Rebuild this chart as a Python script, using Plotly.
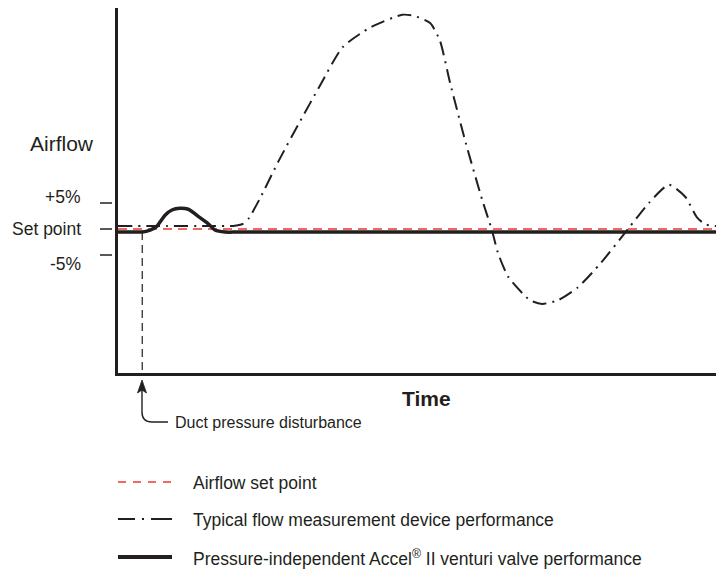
import plotly.graph_objects as go

# ---- data (time in arbitrary units 0..100, airflow as % deviation from set point)
setpoint_t = [0, 100]
setpoint_v = [0, 0]

typical_t = [0, 8, 15, 19.0, 20.6, 21.6, 23.3, 26.6, 29.9, 33.2, 37.1, 41.7, 46.9, 48.8,
             51.5, 53.1, 54.8, 57.4, 60.1, 61.7, 62.7, 64.4, 68.0, 70.0, 72.6, 75.9, 79.7,
             84.3, 87.6, 90.9, 93.6, 95.5, 96.9, 98.5, 100]
typical_v = [0.58, 0.58, 0.58, 0.6, 1.0, 2.1, 5.6, 13.3, 20.4, 27.3, 35.0, 38.8, 41.2, 41.0,
             39.6, 36.3, 28.1, 16.5, 5.6, -0.2, -4.6, -9.2, -13.7, -14.4, -13.7, -11.2, -6.5,
             0.2, 5.0, 8.5, 6.2, 2.3, 0.9, 0.6, 0.58]

accel_t = [0, 2.5, 4.0, 5.3, 6.3, 7.8, 8.9, 10.2, 11.6, 13.4, 14.9, 16.0, 17.7, 20, 100]
accel_v = [-0.58, -0.58, -0.58, -0.2, 0.4, 2.7, 3.65, 4.0, 3.8, 2.3, 1.0, -0.2, -0.58,
           -0.58, -0.58]

disturbance_t = 4.0

tick_vals = [5, 0, -5]
tick_labels = ["+5%", "Set point", "-5%"]
tick_label_shift = [6, 0, -9]

legend_labels = ["Airflow set point",
                 "Typical flow measurement device performance",
                 "Pressure-independent Accel<sup>®</sup> II venturi valve performance"]

# ---- layout geometry (page has an 8px body margin; helpers take page pixels)
OFF = 8
W, H = 724 - OFF, 569 - OFF
L, R, T, B = 118 - OFF, 0, 0, 196
PW, PH = W - L - R, H - T - B


def px(x):
    return (x - OFF - L) / PW


def py(y):
    return (OFF + H - B - y) / PH


Y_MIN, Y_MAX = -27.69, 42.5
INK = "#231f20"
RED = "#e8382f"
FONT = "Liberation Sans, Arial, Helvetica, sans-serif"

fig = go.Figure()

fig.add_trace(go.Scatter(x=[disturbance_t, disturbance_t], y=[accel_v[0], Y_MIN], mode="lines",
                         line=dict(color=INK, width=1.2, dash="8px,5px"), showlegend=False,
                         hoverinfo="skip"))
fig.add_trace(go.Scatter(x=setpoint_t, y=setpoint_v, mode="lines",
                         line=dict(color=RED, width=1.6, dash="9px,6px"), showlegend=False))
fig.add_trace(go.Scatter(x=typical_t, y=typical_v, mode="lines",
                         line=dict(color=INK, width=2, dash="14px,6px,2px,6px",
                                   shape="spline", smoothing=0.6), showlegend=False))
fig.add_trace(go.Scatter(x=accel_t, y=accel_v, mode="lines",
                         line=dict(color=INK, width=3.5, shape="spline", smoothing=0.7),
                         showlegend=False))

shapes = []
annotations = []

# y tick marks (detached from axis) and labels
for v, lab, sh in zip(tick_vals, tick_labels, tick_label_shift):
    shapes.append(dict(type="line", xref="paper", yref="y", x0=px(100), x1=px(112), y0=v, y1=v,
                       line=dict(color=INK, width=1.5)))
    annotations.append(dict(xref="paper", yref="y", x=px(83), y=v, yshift=sh, text=lab,
                            showarrow=False, xanchor="right", yanchor="middle",
                            font=dict(size=17.5, color=INK, family=FONT)))

annotations.append(dict(xref="paper", yref="paper", x=px(62), y=py(143), text="Airflow",
                        showarrow=False, xanchor="center", yanchor="middle",
                        font=dict(size=21, color=INK, family=FONT)))
annotations.append(dict(xref="paper", yref="paper", x=px(400), y=py(398), text="<b>Time</b>",
                        showarrow=False, xanchor="left", yanchor="middle",
                        font=dict(size=21, color=INK, family=FONT)))

# disturbance arrow
ax = 142
path = (f"M {px(ax)},{py(388)} L {px(ax)},{py(412)} "
        f"Q {px(ax)},{py(422)} {px(ax + 10)},{py(422)} L {px(168)},{py(422)}")
shapes.append(dict(type="path", xref="paper", yref="paper", path=path,
                   line=dict(color=INK, width=1.4)))
head = (f"M {px(ax)},{py(380)} L {px(ax + 4.5)},{py(393)} L {px(ax)},{py(390)} "
        f"L {px(ax - 4.5)},{py(393)} Z")
shapes.append(dict(type="path", xref="paper", yref="paper", path=head,
                   fillcolor=INK, line=dict(color=INK, width=0.8)))
annotations.append(dict(xref="paper", yref="paper", x=px(173), y=py(422),
                        text="Duct pressure disturbance", showarrow=False,
                        xanchor="left", yanchor="middle",
                        font=dict(size=16, color=INK, family=FONT)))

# legend (drawn manually)
leg_y = [482, 519, 557]
leg_styles = [dict(color=RED, width=1.6, dash="8px,7px"),
              dict(color=INK, width=2.2, dash="17px,7px,2px,7px,22px"),
              dict(color=INK, width=3.8)]
for yy, lab, st in zip(leg_y, legend_labels, leg_styles):
    shapes.append(dict(type="line", xref="paper", yref="paper", x0=px(118), x1=px(172),
                       y0=py(yy), y1=py(yy), line=st))
    annotations.append(dict(xref="paper", yref="paper", x=px(191), y=py(yy + 1), text=lab,
                            showarrow=False, xanchor="left", yanchor="middle",
                            font=dict(size=17.5, color=INK, family=FONT)))

fig.update_layout(
    width=W, height=H,
    margin=dict(l=L, r=R, t=T, b=B, pad=0),
    paper_bgcolor="white", plot_bgcolor="white",
    showlegend=False,
    shapes=shapes, annotations=annotations,
    xaxis=dict(range=[0, 100], showgrid=False, zeroline=False, showticklabels=False,
               ticks="", showline=True, linecolor=INK, linewidth=2.5, fixedrange=True),
    yaxis=dict(range=[Y_MIN, Y_MAX], showgrid=False, zeroline=False, showticklabels=False,
               ticks="", showline=True, linecolor=INK, linewidth=2.5, fixedrange=True),
)

fig.write_html("out.html")
